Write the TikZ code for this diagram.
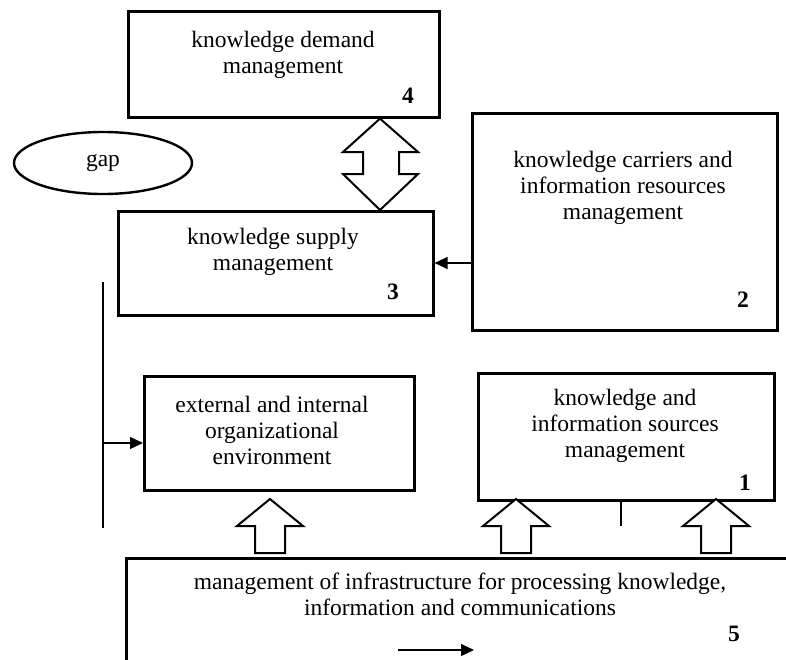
\documentclass[tikz,border=0pt]{standalone}
\usepackage{fontspec}
\setmainfont{Liberation Serif}
\usetikzlibrary{arrows.meta,shapes.geometric}
\begin{document}
\begin{tikzpicture}[x=1pt,y=-1pt,
  box/.style={draw,line width=2.6pt,rectangle,inner sep=0pt,anchor=north west},
  txt/.style={align=center,inner sep=0pt,font=\fontsize{23.5}{26}\selectfont},
  num/.style={inner sep=0pt,font=\fontsize{23.5}{26}\selectfont\bfseries},
  thin/.style={line width=1.3pt},
  blk/.style={draw,line width=2pt,fill=white,line join=miter},
  tip/.style={-{Triangle[length=13pt,width=12pt]}}]
\useasboundingbox (0,0) rectangle (786,659);
\clip (0,0) rectangle (786,659);
% boxes
\node[box,minimum width=311pt,minimum height=106pt] (b4) at (127,10) {};
\node[box,minimum width=315pt,minimum height=104pt] (b3) at (117,210) {};
\node[box,minimum width=305pt,minimum height=217pt] (b2) at (471,112) {};
\node[box,minimum width=270pt,minimum height=114pt] (env) at (143,375) {};
\node[box,minimum width=296pt,minimum height=127pt] (b1) at (477,372) {};
\node[box,minimum width=670pt,minimum height=150pt] (b5) at (125,557) {};
\node[draw,line width=2.4pt,ellipse,minimum width=178pt,minimum height=62pt,inner sep=0pt,font=\fontsize{23.5}{26}\selectfont] (gap) at (103,163) {gap};
% texts
\node[txt] (t4) at (283,55) {knowledge demand\\management};
\node[num] (n4) at (408,96) {4};
\node[txt] (t3) at (273,252) {knowledge supply\\management};
\node[num] (n3) at (393,292) {3};
\node[txt] (t2) at (623,188) {knowledge carriers and\\information resources\\management};
\node[num] (n2) at (743,300) {2};
\node[txt] (tenv) at (272,430) {external and internal\\organizational\\environment};
\node[txt] (t1) at (625,426) {knowledge and\\information sources\\management};
\node[num] (n1) at (745,483) {1};
\node[txt] (t5) at (460,594) {management of infrastructure for processing knowledge,\\information and communications};
\node[num] (n5) at (734,634) {5};
% double arrow between 4 and 3
\draw[blk] (b4.south -| 380,0) -- (418,152) -- (399,152) -- (399,174) -- (418,174) -- (b3.north -| 380,0) -- (343,174) -- (363,174) -- (363,152) -- (343,152) -- cycle;
% up block arrows
\coordinate (u1) at (270,499);
\coordinate (u2) at (516,499);
\coordinate (u3) at (716,499);
\foreach \c in {u1,u2,u3}{
  \draw[blk] (\c) -- ++(33,27) -- ++(-18,0) -- ++(0,27) -- ++(-30,0) -- ++(0,-27) -- ++(-18,0) -- cycle;
}
% connectors
\draw[thin,tip] (b2.west |- 0,263) -- (b3.east |- 0,263);
\coordinate (l1) at (103,282);
\coordinate (l2) at (103,528);
\draw[thin] (l1) -- (l2);
\draw[thin,tip] (l1 |- 0,443) -- (env.west |- 0,443);
\coordinate (v1) at (621,500);
\coordinate (v2) at (621,526);
\draw[thin] (v1) -- (v2);
\coordinate (a1) at (398,650);
\coordinate (a2) at (474,650);
\draw[thin,tip] (a1) -- (a2);
\end{tikzpicture}
\end{document}
